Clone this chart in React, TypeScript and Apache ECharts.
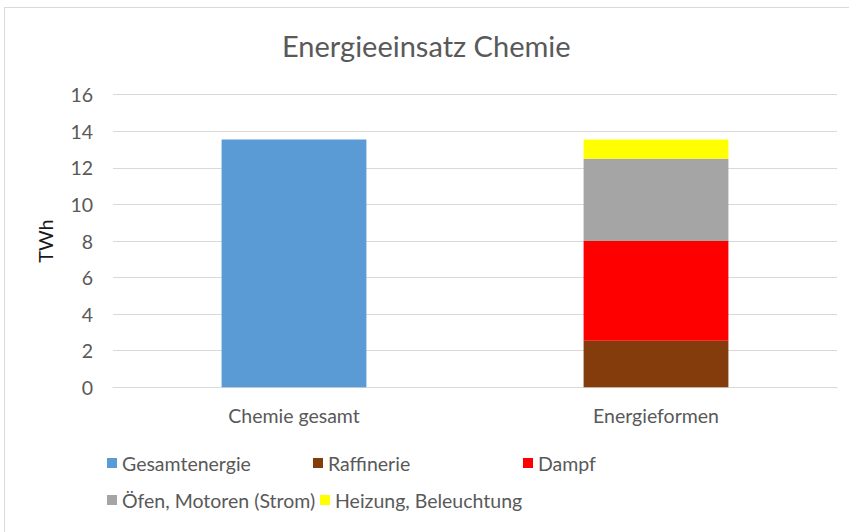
import React, { useEffect, useRef } from "react";
import * as echarts from "echarts";

const categories = ["Chemie gesamt", "Energieformen"];
const gesamtenergie = [13.55, null];
const raffinerie = [null, 2.55];
const dampf = [null, 5.45];
const oefen = [null, 4.5];
const heizung = [null, 1.05];
const seriesNames = [
  "Gesamtenergie",
  "Raffinerie",
  "Dampf",
  "Öfen, Motoren (Strom)",
  "Heizung, Beleuchtung",
];
const colors = ["#5B9BD5", "#843C0C", "#FF0000", "#A5A5A5", "#FFFF00"];

const FONT = "Lato, 'Open Sans', sans-serif";
const TXT = "#595959";

export default function App() {
  const ref = useRef<HTMLDivElement>(null);
  useEffect(() => {
    if (!ref.current) return;
    const chart = echarts.init(ref.current, undefined, { renderer: "svg" });
    const values = [gesamtenergie, raffinerie, dampf, oefen, heizung];
    const legendPos = [
      { left: 107, top: 453 },
      { left: 313, top: 453 },
      { left: 523, top: 453 },
      { left: 107, top: 490 },
      { left: 320, top: 490 },
    ];
    chart.setOption({
      animation: false,
      textStyle: { fontFamily: FONT },
      title: {
        text: "Energieeinsatz Chemie",
        left: 282,
        top: 31,
        padding: 0,
        textStyle: { fontFamily: FONT, fontSize: 29, fontWeight: "normal", color: TXT },
      },
      grid: { left: 113, right: 12, top: 94.7, bottom: 144.7, containLabel: false },
      legend: seriesNames.map((n, i) => ({
        data: [n],
        left: legendPos[i].left,
        top: legendPos[i].top,
        itemWidth: 10,
        itemHeight: 10,
        itemGap: 4,
        padding: 0,
        icon: "rect",
        selectedMode: false,
        textStyle: { fontFamily: FONT, fontSize: 19.5, color: TXT },
      })),
      xAxis: {
        type: "category",
        data: categories,
        axisLine: { show: true, lineStyle: { color: "#D9D9D9" } },
        axisTick: { show: false },
        axisLabel: { fontFamily: FONT, fontSize: 19.5, color: TXT, margin: 18 },
      },
      yAxis: {
        type: "value",
        min: 0,
        max: 16,
        interval: 2,
        name: "TWh",
        nameLocation: "middle",
        nameRotate: 90,
        nameGap: 58,
        nameTextStyle: { fontFamily: FONT, fontSize: 20, color: "#1a1a1a" },
        axisLine: { show: false },
        axisTick: { show: false },
        axisLabel: { fontFamily: FONT, fontSize: 19.5, color: TXT, margin: 20 },
        splitLine: { lineStyle: { color: "#D9D9D9" } },
      },
      graphic: [
        {
          type: "rect",
          shape: { x: 4.5, y: 7.5, width: 860, height: 540 },
          style: { fill: "none", stroke: "#D9D9D9", lineWidth: 1 },
          silent: true,
        },
      ],
      series: seriesNames.map((n, i) => ({
        name: n,
        type: "bar",
        stack: i === 0 ? "a" : "b",
        data: values[i],
        barWidth: "40%",
        barGap: "-100%",
        itemStyle: { color: colors[i] },
      })),
    });
    return () => chart.dispose();
  }, []);
  return (
    <div
      ref={ref}
      style={{ position: "fixed", left: 0, top: 0, width: 849, height: 532, background: "#fff" }}
    />
  );
}
